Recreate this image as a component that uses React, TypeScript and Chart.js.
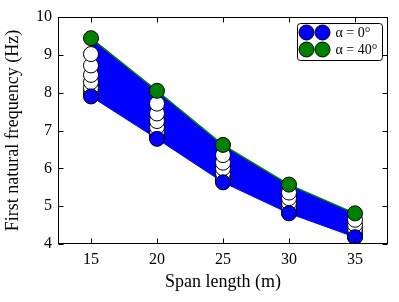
import React, { useEffect, useRef } from 'react';
import { Chart, registerables } from 'chart.js';
Chart.register(...registerables);

const spans = [15, 20, 25, 30, 35];
const alpha0 = [7.9, 6.78, 5.63, 4.81, 4.18];
const alpha5 = [7.94, 6.81, 5.66, 4.83, 4.2];
const alpha10 = [8.02, 6.88, 5.71, 4.87, 4.23];
const alpha15 = [8.13, 6.97, 5.78, 4.92, 4.27];
const alpha20 = [8.28, 7.09, 5.87, 4.99, 4.33];
const alpha25 = [8.47, 7.25, 6.0, 5.09, 4.41];
const alpha30 = [8.72, 7.45, 6.15, 5.21, 4.51];
const alpha35 = [9.02, 7.71, 6.35, 5.36, 4.64];
const alpha40 = [9.44, 8.05, 6.62, 5.57, 4.81];
const whiteSeries = [alpha35, alpha30, alpha25, alpha20, alpha15, alpha10, alpha5];
const xTicks = [15, 20, 25, 30, 35];
const yTicks = [4, 5, 6, 7, 8, 9, 10];
const legendLabels = ['α = 0°', 'α = 40°'];
const xTitle = 'Span length (m)';
const yTitle = 'First natural frequency (Hz)';

const BLUE = '#0000ff';
const GREEN = '#008000';
const FONT = "'Liberation Serif', serif";

const toXY = (ys: number[]) => ys.map((y, i) => ({ x: spans[i], y }));

const framePlugin = {
  id: 'frameTicks',
  afterDraw(chart: any) {
    const { ctx, chartArea: a, scales } = chart;
    const L = Math.round(a.left) + 0.5;
    const R = Math.round(a.right) - 0.5;
    const T = Math.round(a.top) + 0.5;
    const B = Math.round(a.bottom) - 0.5;
    ctx.save();
    ctx.strokeStyle = '#000';
    ctx.lineWidth = 1;
    ctx.strokeRect(L, T, R - L, B - T);
    const tl = 5;
    ctx.beginPath();
    xTicks.forEach((v) => {
      const px = Math.round(scales.x.getPixelForValue(v)) + 0.5;
      ctx.moveTo(px, B); ctx.lineTo(px, B - tl);
      ctx.moveTo(px, T); ctx.lineTo(px, T + tl);
    });
    yTicks.forEach((v) => {
      const py = Math.round(scales.y.getPixelForValue(v)) + 0.5;
      ctx.moveTo(L, py); ctx.lineTo(L + tl, py);
      ctx.moveTo(R, py); ctx.lineTo(R - tl, py);
    });
    ctx.stroke();

    // legend
    const bw = 85, bh = 37;
    const bx = Math.round(a.right) - 6 - bw + 0.5;
    const by = Math.round(a.top) + 6 + 0.5;
    ctx.beginPath();
    (ctx as any).roundRect(bx, by, bw, bh, 3);
    ctx.fillStyle = '#fff';
    ctx.fill();
    ctx.lineWidth = 1;
    ctx.strokeStyle = '#000';
    ctx.stroke();
    const colors = [BLUE, GREEN];
    legendLabels.forEach((lab, i) => {
      const cy = by + 9 + i * 17;
      [bx + 9, bx + 25].forEach((cx) => {
        ctx.beginPath();
        ctx.arc(cx, cy, 7.5, 0, Math.PI * 2);
        ctx.fillStyle = colors[i];
        ctx.fill();
        ctx.strokeStyle = '#000';
        ctx.stroke();
      });
      ctx.fillStyle = '#000';
      ctx.font = `14px ${FONT}`;
      ctx.textBaseline = 'middle';
      ctx.textAlign = 'left';
      ctx.fillText(lab, bx + 38, cy + 1);
    });
    ctx.restore();
  },
};

export default function App() {
  const ref = useRef<HTMLCanvasElement>(null);
  useEffect(() => {
    if (!ref.current) return;
    const pointCommon = {
      pointRadius: 7.5,
      pointHoverRadius: 7.5,
      pointBorderColor: '#000',
      pointBorderWidth: 1,
    };
    const datasets: any[] = [
      {
        label: legendLabels[1],
        data: toXY(alpha40),
        borderColor: GREEN,
        borderWidth: 1.5,
        backgroundColor: BLUE,
        pointBackgroundColor: GREEN,
        fill: { target: 1 },
        ...pointCommon,
      },
      {
        label: legendLabels[0],
        data: toXY(alpha0),
        borderColor: BLUE,
        borderWidth: 1,
        backgroundColor: BLUE,
        pointBackgroundColor: BLUE,
        fill: false,
        ...pointCommon,
      },
      ...whiteSeries.map((s) => ({
        data: toXY(s),
        showLine: false,
        borderColor: '#000',
        backgroundColor: '#fff',
        pointBackgroundColor: '#fff',
        fill: false,
        ...pointCommon,
      })),
    ];
    const chart = new Chart(ref.current, {
      type: 'line',
      data: { datasets },
      options: {
        animation: false,
        responsive: false,
        devicePixelRatio: 1,
        layout: { padding: { top: 17, right: 11, left: 0, bottom: 0 } },
        plugins: {
          legend: { display: false },
          tooltip: { enabled: false },
          filler: { drawTime: 'beforeDatasetsDraw', propagate: false },
        } as any,
        events: [],
        scales: {
          x: {
            type: 'linear',
            min: 12.5,
            max: 37.5,
            grid: { display: false, drawTicks: false },
            border: { display: false },
            afterBuildTicks: (s: any) => { s.ticks = xTicks.map((v) => ({ value: v })); },
            afterFit: (s: any) => { s.height = 58; },
            ticks: { color: '#000', font: { family: FONT, size: 16 }, padding: 6, maxRotation: 0 },
            title: { display: true, text: xTitle, color: '#000', font: { family: FONT, size: 18 }, padding: { top: 0, bottom: 9 } },
          },
          y: {
            type: 'linear',
            min: 4,
            max: 10,
            grid: { display: false, drawTicks: false },
            border: { display: false },
            afterBuildTicks: (s: any) => { s.ticks = yTicks.map((v) => ({ value: v })); },
            afterFit: (s: any) => { s.width = 58; },
            ticks: { color: '#000', font: { family: FONT, size: 16 }, padding: 6 },
            title: { display: true, text: yTitle, color: '#000', font: { family: FONT, size: 18 }, padding: { top: 2, bottom: 0 } },
          },
        },
      },
      plugins: [framePlugin],
    });
    return () => chart.destroy();
  }, []);
  return (
    <div style={{ position: 'fixed', left: 0, top: 0, width: 399, height: 302, background: '#fff' }}>
      <canvas ref={ref} width={399} height={302} style={{ width: 399, height: 302 }} />
    </div>
  );
}
